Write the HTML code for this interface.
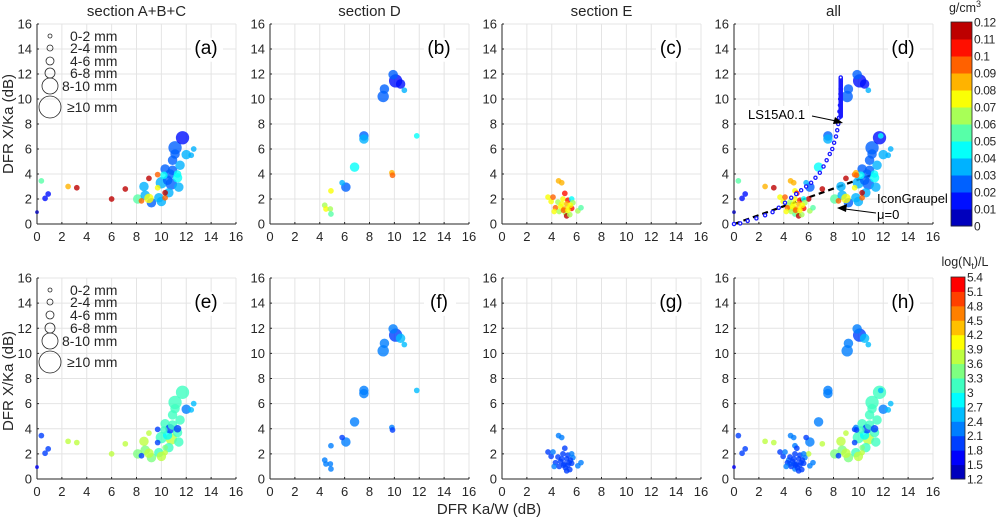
<!DOCTYPE html>
<html><head><meta charset="utf-8">
<style>
body{margin:0;background:#fff;}
svg text{font-family:"Liberation Sans",sans-serif;fill:#262626;}
</style></head>
<body>
<svg id="fig" width="998" height="522" viewBox="0 0 998 522" xmlns="http://www.w3.org/2000/svg">
<rect width="998" height="522" fill="#fff"/>
</svg>
<script>
// ---- data ----
const ticks=[0,2,4,6,8,10,12,14,16];
const densTicks=["0","0.01","0.02","0.03","0.04","0.05","0.06","0.07","0.08","0.09","0.1","0.11","0.12"];
const ntTicks=["1.2","1.5","1.8","2.1","2.4","2.7","3","3.3","3.6","3.9","4.2","4.5","4.8","5.1","5.4"];
const sizeLegend=["0-2 mm","2-4 mm","4-6 mm","6-8 mm","8-10 mm","\u226510 mm"];
const sizeRadii=[2,3,4,5,6,8];
// ABC: x, y, radius class, density, logNt
const ptsABC=[[0,0.95,2,0.005,1.5],[0.35,3.45,3,0.05,1.8],[0.65,2.05,3,0.01,1.8],[0.9,2.4,3,0.01,1.8],
[2.5,3.0,3,0.08,3.7],[3.2,2.9,3,0.11,3.7],[6.0,2.0,3,0.11,3.7],[7.1,2.8,3,0.11,3.7],[8.1,2.0,5,0.055,3.4],
[8.4,1.85,3,0.09,1.9],[9.0,3.65,3,0.115,3.7],[9.2,1.7,5,0.025,3.5],[8.6,3.0,5,0.035,3.7],[8.7,2.3,5,0.03,3.5],
[9.7,2.9,3,0.07,2.0],[9.7,3.95,3,0.09,2.0],[9.8,2.1,5,0.035,3.0],[10.0,1.8,5,0.035,3.6],[9.0,2.05,5,0.075,3.6],[10.3,2.1,3,0.09,3.8],
[10.3,2.5,3,0.11,3.5],[10.0,3.3,6,0.03,3.3],[10.3,4.4,5,0.02,3.3],[10.5,3.5,5,0.02,2.9],[10.6,2.5,5,0.03,3.3],
[10.8,3.2,6,0.025,3.6],[10.7,4.0,5,0.02,2.0],[10.9,4.3,5,0.02,3.0],[10.9,5.1,5,0.025,3.0],[11.1,5.6,5,0.02,3.0],
[11.1,6.1,7,0.025,3.0],[11.3,4.0,4,0.045,2.0],[11.3,3.7,5,0.045,3.0],[11.4,2.95,5,0.03,3.3],[11.5,4.7,5,0.03,3.1],
[11.7,6.9,7,0.015,3.2],[12.0,5.55,5,0.03,2.1],[12.4,5.5,3,0.035,2.5],[12.6,6.0,3,0.035,2.5],[10.2,3.9,4,0.045,3.0]];
const ptsD=[[4.4,1.5,3,0.065,2.3],[4.5,1.2,3,0.075,2.3],[4.85,1.2,3,0.065,2.3],[4.9,0.8,3,0.055,2.3],[4.9,2.65,3,0.075,2.3],
[5.8,3.3,3,0.035,1.9],[6.1,2.95,5,0.025,2.3],[6.8,4.55,5,0.045,2.3],[7.55,7.05,5,0.02,2.3],[7.55,6.8,5,0.03,2.3],
[9.1,10.2,6,0.025,2.3],[9.2,10.8,5,0.025,2.3],[9.8,4.1,3,0.085,2.2],[9.85,3.9,3,0.095,1.9],[9.9,11.95,5,0.025,2.3],
[10.1,11.45,7,0.015,2.0],[10.5,11.2,5,0.01,2.6],[10.8,10.7,3,0.035,2.6],[11.8,7.05,3,0.045,2.6]];
const ptsE=[[4.55,3.45,3,0.085,2.3],[4.8,3.3,3,0.085,2.3],[3.7,2.15,3,0.075,2.0],[3.95,1.8,3,0.075,1.9],[4.1,2.15,3,0.095,2.3],
[4.5,1.75,3,0.065,1.9],[4.3,1.3,3,0.095,1.8],[4.2,1.0,3,0.075,2.1],[4.6,1.0,3,0.065,1.9],[4.7,1.4,3,0.075,1.8],
[4.9,2.0,3,0.075,1.9],[5.05,2.45,3,0.105,1.8],[5.3,1.9,3,0.105,2.0],[5.2,1.6,3,0.085,1.8],[5.0,1.2,3,0.085,1.8],
[5.1,0.9,3,0.065,1.9],[5.2,0.65,3,0.115,1.9],[5.45,0.75,3,0.065,2.0],[5.4,1.3,3,0.075,1.8],[5.6,1.25,3,0.105,1.9],
[5.6,2.0,3,0.045,2.1],[5.7,1.7,3,0.065,2.3],[4.95,1.1,3,0.095,1.8],[5.3,1.1,3,0.075,1.8],[6.1,1.05,3,0.065,2.1],
[6.35,1.3,3,0.055,2.1],[5.5,1.5,3,0.075,1.8],[4.8,1.6,3,0.07,1.9]];
const lsX=[0,0.5,1.1,1.8,2.5,3.1,3.6,4.1,4.6,5.0,5.4,5.8,6.2,6.55,6.9,7.2,7.45,7.7,7.9,8.05,8.2,8.3,8.38,8.44,8.48,8.52,8.54,8.56,8.57,8.58,8.58,8.58];
const lsY=[0,0.05,0.25,0.45,0.7,0.95,1.3,1.7,2.1,2.4,2.7,3.0,3.3,3.7,4.1,4.6,5.1,5.6,6.0,6.5,7.0,7.5,8.0,8.5,9.0,9.5,10.0,10.4,10.8,11.1,11.4,11.7];
const igX=[0,11];
const igY=[0,3.9];

const NS="http://www.w3.org/2000/svg";
const svg=document.getElementById('fig');
function el(t,a,p){const e=document.createElementNS(NS,t);for(const k in a)e.setAttribute(k,a[k]);(p||svg).appendChild(e);return e;}
function jet(t){const c=v=>Math.round(255*Math.max(0,Math.min(1,v)));
 return `rgb(${c(1.5-Math.abs(4*t-3))},${c(1.5-Math.abs(4*t-2))},${c(1.5-Math.abs(4*t-1))})`;}
function binT(i,n,top){return 0.06+(i/(n-1))*(top-0.06);}
function binColor(v,lo,hi,n,top){let i=Math.floor((v-lo)/(hi-lo)*n);i=Math.max(0,Math.min(n-1,i));return jet(binT(i,n,top));}
const densCol=v=>binColor(v,0,0.12,12,0.94);
const ntCol=v=>binColor(v,1.2,5.4,14,0.875);

const colX=[37,270,502,734], W=199;
const rowY=[[24,224],[278,479]];
const titles=["section A+B+C","section D","section E","all"];
const labs=[["(a)","(b)","(c)","(d)"],["(e)","(f)","(g)","(h)"]];
const sets=[ptsABC,ptsD,ptsE,ptsABC.concat(ptsD,ptsE)];

for(let r=0;r<2;r++)for(let c=0;c<4;c++){
 const x0=colX[c],yT=rowY[r][0],yB=rowY[r][1];
 const sx=v=>x0+v/16*W, sy=v=>yB-v/16*(yB-yT);
 const g=el('g',{});
 
 
 ticks.forEach(t=>{
  el('line',{x1:sx(t),x2:sx(t),y1:yT,y2:yB,stroke:'#e4e4e4','stroke-width':1},g);
  el('line',{x1:x0,x2:x0+W,y1:sy(t),y2:sy(t),stroke:'#e4e4e4','stroke-width':1},g);
  el('line',{x1:sx(t),x2:sx(t),y1:yB,y2:yB-2,stroke:'#262626'},g);
  el('line',{x1:x0,x2:x0+2,y1:sy(t),y2:sy(t),stroke:'#262626'},g);
  const tx=el('text',{x:sx(t),y:yB+17,'font-size':13,'text-anchor':'middle'},g);tx.textContent=t;
  
  const ty=el('text',{x:x0-5,y:sy(t)+4.5,'font-size':13,'text-anchor':'end'},g);ty.textContent=t;
  
 });
 el('line',{x1:x0,x2:x0,y1:yT,y2:yB,stroke:'#262626'},g);
 el('line',{x1:x0,x2:x0+W,y1:yB,y2:yB,stroke:'#262626'},g);
 if(r==0){const t=el('text',{x:x0+W/2,y:16,'font-size':15,'text-anchor':'middle'},g);t.textContent=titles[c];
  }
 el('rect',{x:x0+W-45,y:sy(14.9),width:32,height:24,fill:'#fff'},g);
 const pl=el('text',{x:x0+W-30,y:sy(13.6),'font-size':19,'text-anchor':'middle',style:'fill:#000'},g);pl.textContent=labs[r][c];
 
 if(c==0){
  const ly=r==0?[36,48,61,73,86,107]:[290,302,315,328,341,362];
  sizeLegend.forEach((s,i)=>{
   el('circle',{cx:50,cy:ly[i],r:sizeRadii[i]+(i==5?3:i==4?2:0),fill:'none',stroke:'#262626','stroke-width':0.8},g);
   const t=el('text',{x:i==5?67:i==4?62:70,y:ly[i]+5,'font-size':14},g);t.textContent=s;
   
  });
 }
 if(r==0&&c==3){
  const d='M'+igX.map((v,i)=>sx(v)+','+sy(igY[i])).join(' L');
  const dl=el('path',{d:d,stroke:'#000','stroke-width':2.2,'stroke-dasharray':'6,4',fill:'none'},g);
  
 }
 const pts=sets[c].slice().sort((a,b)=>b[2]-a[2]);
 pts.forEach(p=>{
  const ci=el('circle',{cx:sx(p[0]),cy:sy(p[1]),r:p[2]*0.95,fill:r==0?densCol(p[3]):ntCol(p[4]),'fill-opacity':0.8},g);
  
 });
 if(r==0&&c==3){
  lsX.forEach((v,i)=>{
   const ci=el('circle',{cx:sx(v),cy:sy(lsY[i]),r:1.6,fill:'#fff',stroke:'#1a1aff','stroke-width':1.3},g);
   
  });
  for(let k=0;k<40;k++){const yy=8.6+k*0.08;
   el('circle',{cx:sx(8.58),cy:sy(yy),r:1.6,fill:'#fff',stroke:'#1a1aff','stroke-width':1.3},g);}
  el('rect',{x:747,y:106,width:62,height:17,fill:'#fff'},g);
  const t1=el('text',{x:748,y:119,'font-size':13,style:'fill:#000'},g);t1.textContent='LS15A0.1';
  
  el('line',{x1:812,y1:116,x2:836,y2:121,stroke:'#000','stroke-width':1},g);
  el('path',{d:'M843,123 L833,124 L835,117 Z',fill:'#000'},g);
  const t2=el('text',{x:877,y:203,'font-size':13,style:'fill:#000'},g);t2.textContent='IconGraupel';
  
  const t3=el('text',{x:877,y:219,'font-size':13,style:'fill:#000'},g);t3.textContent='\u03bc=0';
  
  el('line',{x1:876,y1:213,x2:845,y2:209,stroke:'#000','stroke-width':1},g);
  el('path',{d:'M837,208 L847,204 L846,212 Z',fill:'#000'},g);
 }
}
[[124],[381]].forEach((v,i)=>{const t=el('text',{x:0,y:0,'font-size':15,'text-anchor':'middle',transform:`translate(13,${v[0]}) rotate(-90)`});
 t.textContent='DFR X/Ka (dB)';});
const xt=el('text',{x:489,y:514,'font-size':15,'text-anchor':'middle'});xt.textContent='DFR Ka/W (dB)';

function cbar(x,y0,y1,w,labels,name,title,ty,top){
 const g=el('g',{});
 const n=labels.length-1,h=(y1-y0)/n;
 for(let i=0;i<n;i++)el('rect',{x:x,y:y1-(i+1)*h,width:w,height:h+0.5,fill:jet(binT(i,n,top))},g);
 el('rect',{x:x,y:y0,width:w,height:y1-y0,fill:'none',stroke:'#262626','stroke-width':0.8},g);
 labels.forEach((l,i)=>{const t=el('text',{x:x+w+2,y:y1-i*h+4.5,'font-size':12,'letter-spacing':'-0.4'},g);t.textContent=l;
  });
 const t=el('text',{x:965,y:ty,'font-size':12.5,'text-anchor':'middle'},g);t.innerHTML=title;
 
}
cbar(951,22,226,21,densTicks,'density-colorbar','g/cm<tspan dy="-5" font-size="9">3</tspan>',12,0.94);
cbar(951,277,479,14,ntTicks,'nt-colorbar','log(N<tspan dy="3" font-size="9">t</tspan><tspan dy="-3">)/L</tspan>',266,0.875);
</script>
</body></html>
